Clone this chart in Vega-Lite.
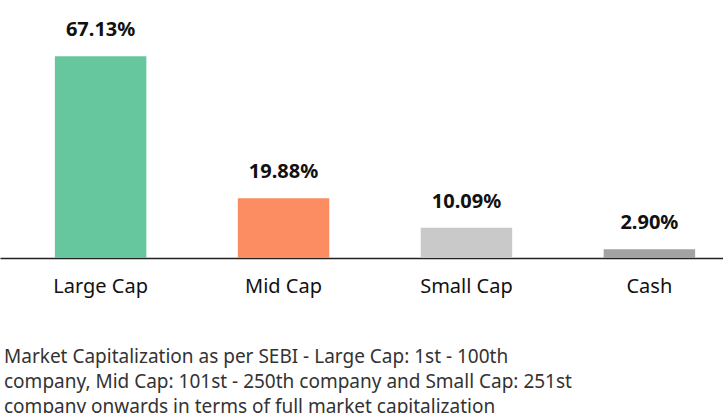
{
  "$schema": "https://vega.github.io/schema/vega-lite/v6.json",
  "width": 750,
  "height": 258,
  "autosize": "none",
  "padding": {"left": 0, "top": 0, "right": 0, "bottom": 155},
  "background": "white",
  "config": {"view": {"stroke": null}, "font": "Noto Sans"},
  "title": {
    "text": ["Market Capitalization as per SEBI - Large Cap: 1st - 100th", "company, Mid Cap: 101st - 250th company and Small Cap: 251st", "company onwards in terms of full market capitalization"],
    "orient": "bottom",
    "anchor": "start",
    "fontSize": 19,
    "fontWeight": "normal",
    "color": "#333333",
    "lineHeight": 25,
    "offset": 52,
    "dx": 4
  },
  "data": {"values": [
    {"cat": "Large Cap", "v": 67.13, "label": "67.13%", "c": "#66c79f"},
    {"cat": "Mid Cap", "v": 19.88, "label": "19.88%", "c": "#fc8d62"},
    {"cat": "Small Cap", "v": 10.09, "label": "10.09%", "c": "#c9c9c9"},
    {"cat": "Cash", "v": 2.9, "label": "2.90%", "c": "#a3a3a3"}
  ]},
  "encoding": {
    "x": {"field": "cat", "type": "nominal", "sort": null,
      "scale": {"paddingInner": 0.5, "paddingOuter": 0.3},
      "axis": {"title": null, "labelAngle": 0, "labelFontSize": 20, "labelColor": "#111", "domainColor": "#222", "domainWidth": 1.5, "ticks": false, "labelPadding": 18}},
    "y": {"field": "v", "type": "quantitative", "scale": {"domain": [0, 85.8]}, "axis": null}
  },
  "layer": [
    {"mark": {"type": "bar"}, "encoding": {"color": {"field": "c", "type": "nominal", "scale": null}}},
    {"mark": {"type": "text", "dy": -26, "fontSize": 20, "fontWeight": "bold", "color": "#111"}, "encoding": {"text": {"field": "label"}}}
  ]
}
